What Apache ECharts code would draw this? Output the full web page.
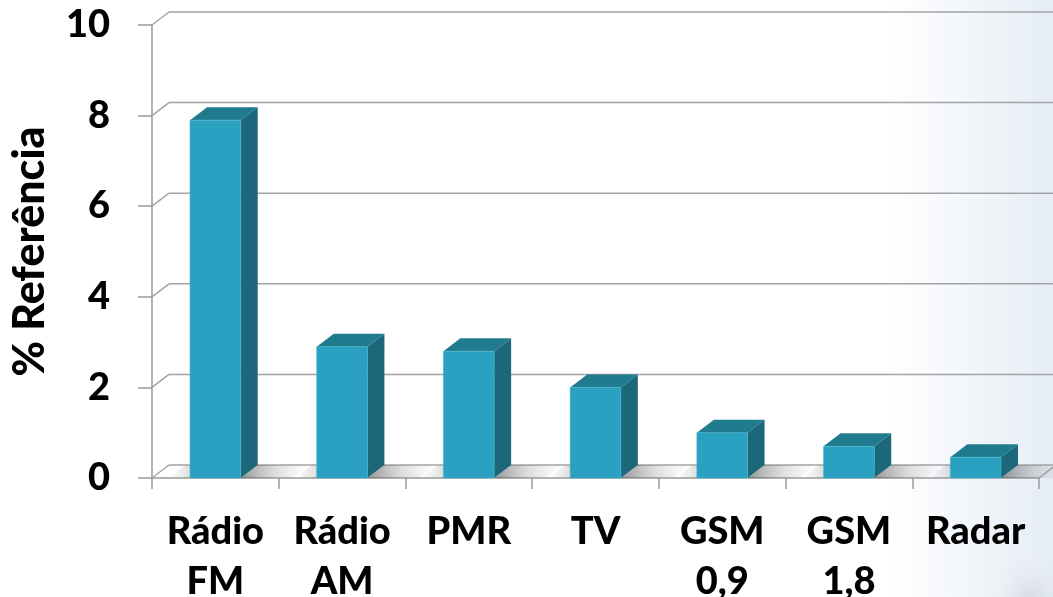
<!DOCTYPE html>
<html>
<head>
<meta charset="utf-8">
<script src="https://cdn.jsdelivr.net/npm/echarts@6/dist/echarts.min.js"></script>
<style>
  html, body { margin: 0; padding: 0; background: #fff; }
  #chart { width: 1053px; height: 597px; }
</style>
</head>
<body>
<div id="chart"></div>
<script>
// Categories, values (%) and value-axis ticks
const categories = ['Rádio\nFM', 'Rádio\nAM', 'PMR', 'TV', 'GSM\n0,9', 'GSM\n1,8', 'Radar'];
const values = [7.9, 2.9, 2.8, 2.0, 1.0, 0.7, 0.46];
const yTicks = [0, 2, 4, 6, 8, 10];
const yAxisName = '% Referência';

// 3D depth offset of the walls and columns
const DX = 17, DY = -13;
const FONT = 'Lato';
const GRID_COLOR = '#a3a3a3';

const chart = echarts.init(document.getElementById('chart'), null, { renderer: 'canvas' });

// Back-wall gridlines plus the diagonal connectors from the front axis
function renderWall(params, api) {
  const cs = params.coordSys;
  const y = api.coord([0, api.value(0)])[1];
  const x0 = cs.x, x1 = cs.x + cs.width;
  const children = [
    { type: 'line', shape: { x1: x0, y1: y, x2: x0 + DX, y2: y + DY },
      style: { stroke: GRID_COLOR, lineWidth: 1.5 } },
    { type: 'line', shape: { x1: x0 + DX, y1: y + DY, x2: x1 + DX, y2: y + DY },
      style: { stroke: GRID_COLOR, lineWidth: 1.5 } }
  ];
  if (api.value(0) === 0) {
    children.push({ type: 'line', shape: { x1: x1, y1: y, x2: x1 + DX, y2: y + DY },
      style: { stroke: GRID_COLOR, lineWidth: 1.5 } });
  }
  return { type: 'group', children };
}

// Soft shadow cast on the floor beside each column
function renderShadow(params, api) {
  const idx = api.value(0);
  const base = api.coord([idx, 0]);
  const hw = api.size([1, 0])[0] * 0.2;
  const xr = base[0] + hw;
  const y = base[1];
  const len = 52;
  return {
    type: 'group',
    children: [
      { type: 'polygon',
        shape: { points: [[xr, y], [xr + DX, y + DY], [xr + DX + len, y + DY], [xr + len, y]] },
        style: { fill: new echarts.graphic.LinearGradient(0, 0, 1, 0, [
          { offset: 0, color: 'rgba(60,60,60,0.55)' },
          { offset: 0.5, color: 'rgba(120,120,120,0.25)' },
          { offset: 1, color: 'rgba(160,160,160,0)' }
        ]) } },
      { type: 'polygon',
        shape: { points: [[base[0] - hw - 22, y], [base[0] - hw - 22 + DX, y + DY], [base[0] - hw + DX, y + DY], [base[0] - hw, y]] },
        style: { fill: new echarts.graphic.LinearGradient(0, 0, 1, 0, [
          { offset: 0, color: 'rgba(150,150,150,0)' },
          { offset: 1, color: 'rgba(110,110,110,0.45)' }
        ]) } }
    ]
  };
}

// Column with front, side and top faces
function renderColumn(params, api) {
  const idx = api.value(0);
  const top = api.coord([idx, api.value(1)]);
  const base = api.coord([idx, 0]);
  const hw = api.size([1, 0])[0] * 0.2;
  const xl = top[0] - hw, xr = top[0] + hw;
  const yt = top[1], yb = base[1];
  return {
    type: 'group',
    children: [
      { type: 'polygon',
        shape: { points: [[xr, yt], [xr + DX, yt + DY], [xr + DX, yb + DY], [xr, yb]] },
        style: { fill: '#1c6779' } },
      { type: 'polygon',
        shape: { points: [[xl, yt], [xl + DX, yt + DY], [xr + DX, yt + DY], [xr, yt]] },
        style: { fill: '#217b8f' } },
      { type: 'rect',
        shape: { x: xl, y: yt, width: xr - xl, height: yb - yt },
        style: { fill: '#2ba1c1', stroke: '#45b3cf', lineWidth: 0.6 } }
    ]
  };
}

const option = {
  animation: false,
  backgroundColor: 'transparent',
  graphic: [
    { type: 'rect', z: -10, silent: true,
      shape: { x: 0, y: 0, width: 1053, height: 597 },
      style: { fill: new echarts.graphic.LinearGradient(0, 0, 1, 0, [
        { offset: 0, color: '#ffffff' },
        { offset: 0.84, color: '#ffffff' },
        { offset: 1, color: '#e6edf6' }
      ]) } },
    { type: 'rect', z: -9, silent: true,
      shape: { x: 900, y: 550, width: 153, height: 47 },
      style: { fill: new echarts.graphic.RadialGradient(0.85, 1, 0.9, [
        { offset: 0, color: 'rgba(200,204,208,0.5)' },
        { offset: 1, color: 'rgba(225,230,235,0)' }
      ]) } }
  ],
  grid: { left: 152, right: 14, top: 25, bottom: 119, containLabel: false, outerBoundsMode: 'none' },
  xAxis: {
    type: 'category',
    data: categories,
    boundaryGap: true,
    axisLine: { show: true, lineStyle: { color: '#9a9a9a', width: 1.5 } },
    axisTick: { show: true, length: 11, lineStyle: { color: '#9a9a9a', width: 1.5 } },
    axisLabel: {
      interval: 0, margin: 29,
      color: '#000', fontFamily: FONT, fontWeight: 900, fontSize: 38, lineHeight: 50
    },
    splitLine: { show: false }
  },
  yAxis: {
    type: 'value',
    min: yTicks[0], max: yTicks[yTicks.length - 1], interval: 2,
    name: yAxisName,
    nameLocation: 'middle',
    nameRotate: 90,
    nameGap: 100,
    nameTextStyle: { color: '#000', fontFamily: FONT, fontWeight: 900, fontSize: 43 },
    axisLine: { show: true, lineStyle: { color: '#9a9a9a', width: 1.5 } },
    axisTick: { show: true, length: 14, lineStyle: { color: '#9a9a9a', width: 1.5 } },
    axisLabel: { margin: 42, color: '#000', fontFamily: FONT, fontWeight: 900, fontSize: 38, padding: [6, 0, 0, 0] },
    splitLine: { show: false }
  },
  series: [
    { type: 'custom', name: 'wall', z: 1, silent: true,
      renderItem: renderWall, data: yTicks.map(v => [v]), encode: { y: 0 } },
    { type: 'custom', name: 'shadow', z: 2, silent: true,
      renderItem: renderShadow, data: categories.map((c, i) => [i]), encode: { x: 0 } },
    { type: 'custom', name: '% Referência', z: 3,
      renderItem: renderColumn,
      data: values.map((v, i) => [i, v]),
      encode: { x: 0, y: 1 } }
  ]
};

chart.setOption(option);
</script>
</body>
</html>
